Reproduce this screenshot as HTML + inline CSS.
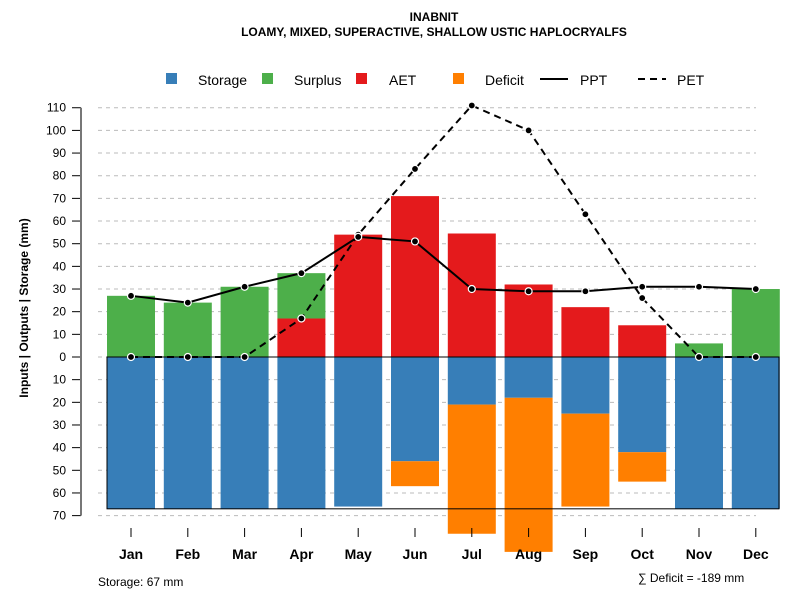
<!DOCTYPE html>
<html><head><meta charset="utf-8"><style>
body{margin:0;background:#fff;font-family:"Liberation Sans",sans-serif}
svg text{font-family:"Liberation Sans",sans-serif}
</style></head><body>
<svg id="c" width="800" height="600">
<text x="434" y="21" text-anchor="middle" font-size="12" font-weight="bold">INABNIT</text>
<text x="434" y="36" text-anchor="middle" font-size="12" font-weight="bold">LOAMY, MIXED, SUPERACTIVE, SHALLOW USTIC HAPLOCRYALFS</text>
<g id="grid"></g><g id="bars"></g><g id="axis"></g><g id="lines"></g>
<g font-size="14">
<rect x="166" y="73" width="11" height="11" fill="#377eb8"/><text x="198" y="85">Storage</text>
<rect x="262" y="73" width="11" height="11" fill="#4daf4a"/><text x="294" y="85">Surplus</text>
<rect x="356" y="73" width="11" height="11" fill="#e41a1c"/><text x="389" y="85">AET</text>
<rect x="453" y="73" width="11" height="11" fill="#ff7f00"/><text x="485" y="85">Deficit</text>
<line x1="540" y1="79" x2="568" y2="79" stroke="#000" stroke-width="2"/><text x="580" y="85">PPT</text>
<line x1="638" y1="79" x2="666" y2="79" stroke="#000" stroke-width="2" stroke-dasharray="7,5"/><text x="677" y="85">PET</text>
</g>
<text transform="translate(28,308) rotate(-90)" text-anchor="middle" font-size="12" font-weight="bold">Inputs | Outputs | Storage    (mm)</text>
<text x="98" y="586" font-size="12">Storage: 67 mm</text>
<text x="638" y="582" font-size="12">∑ Deficit = -189 mm</text>
</svg>
<script>
const months=["Jan","Feb","Mar","Apr","May","Jun","Jul","Aug","Sep","Oct","Nov","Dec"];
const storage=[67,67,67,67,66,46,21,18,25,42,67,67];
const deficit=[0,0,0,0,0,11,57,68,41,13,0,0];
const aet=[0,0,0,17,54,71,54.5,32,22,14,0,0];
const surplus=[27,24,31,20,0,0,0,0,0,0,6,30];
const ppt=[27,24,31,37,53,51,30,29,29,31,31,30];
const pet=[0,0,0,17,54,83,111,100,63,26,0,0];
const posTicks=[0,10,20,30,40,50,60,70,80,90,100,110];
const negTicks=[10,20,30,40,50,60,70];
const capacity=67;
const NS="http://www.w3.org/2000/svg";
const y=v=>357-v*2.266;
const x=i=>131+i*56.8;
const BW=48;
function mk(tag,attrs,parent){const e=document.createElementNS(NS,tag);for(const k in attrs)e.setAttribute(k,attrs[k]);document.getElementById(parent).appendChild(e);return e;}
posTicks.concat(negTicks.map(v=>-v)).forEach(v=>{
 const g=mk('line',{x1:98,x2:756,y1:y(v),y2:y(v),stroke:'#bbb','stroke-dasharray':'4,4'},'grid');
 
 
 const t=mk('line',{x1:72,x2:81,y1:y(v),y2:y(v),stroke:'#000'},'axis');
 
 
 const l=mk('text',{x:66,y:y(v)+4,'text-anchor':'end','font-size':12},'axis');
 l.textContent=Math.abs(v);
 
 
});
const ax=mk('line',{x1:81,x2:81,y1:y(110),y2:y(-70),stroke:'#777','stroke-width':2},'axis');


function bar(i,top,bot,col,name){const r=mk('rect',{x:x(i)-BW/2,y:y(top),width:BW,height:y(bot)-y(top),fill:col},'bars');
 
 }
months.forEach((m,i)=>{
 bar(i,0,-storage[i],'#377eb8','storage-bar-'+m.toLowerCase());
 if(deficit[i]>0)bar(i,-storage[i],-storage[i]-deficit[i],'#ff7f00','deficit-bar-'+m.toLowerCase());
 if(aet[i]>0)bar(i,aet[i],0,'#e41a1c','aet-bar-'+m.toLowerCase());
 if(surplus[i]>0)bar(i,aet[i]+surplus[i],aet[i],'#4daf4a','surplus-bar-'+m.toLowerCase());
 const t=mk('line',{x1:x(i),x2:x(i),y1:528,y2:537,stroke:'#000'},'axis');
 
 
 const l=mk('text',{x:x(i),y:559,'text-anchor':'middle','font-size':14,'font-weight':'bold'},'axis');
 l.textContent=m;
 
 
});
const cap=mk('rect',{x:107,y:y(0),width:672,height:y(-capacity)-y(0),fill:'none',stroke:'#000','stroke-width':1},'bars');


function series(vals,dash,name){
 const p=mk('polyline',{points:vals.map((v,i)=>x(i)+','+y(v)).join(' '),fill:'none',stroke:'#000','stroke-width':2,'stroke-dasharray':dash},'lines');
 
 
 vals.forEach((v,i)=>{const c=mk('circle',{cx:x(i),cy:y(v),r:3.5,fill:'#000',stroke:'#fff','stroke-width':1.2},'lines');
 
 });
}
series(pet,'7,5','pet');
series(ppt,'none','ppt');
</script>
</body></html>
